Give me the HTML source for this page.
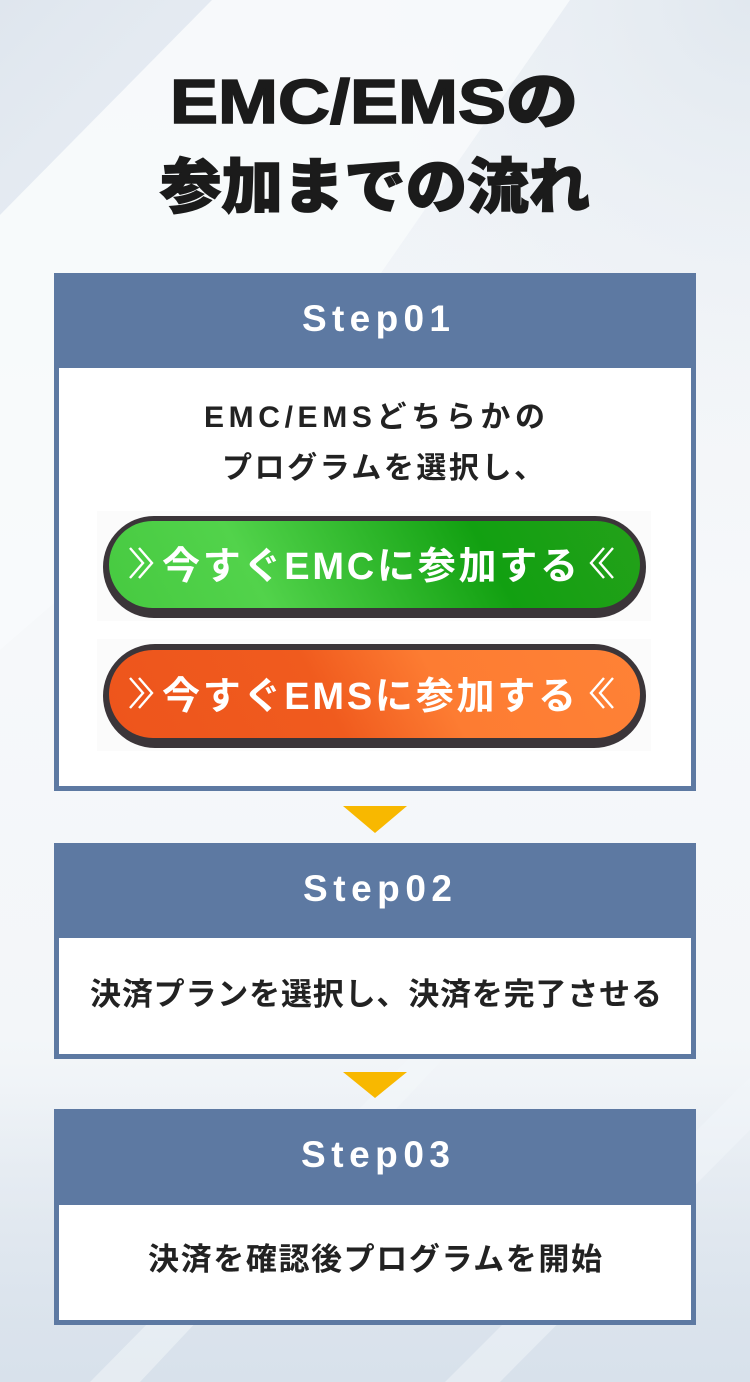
<!DOCTYPE html>
<html>
<head>
<meta charset="utf-8">
<style>
html,body{margin:0;padding:0;width:750px;height:1382px;overflow:hidden;background:#eff3f7;}
svg{display:block;}
text{font-family:"Liberation Sans","Noto Sans CJK JP",sans-serif;}
</style>
</head>
<body>
<svg width="750" height="1382" viewBox="0 0 750 1382" xmlns="http://www.w3.org/2000/svg">
<defs>
  <linearGradient id="bgv" x1="0" y1="0" x2="0" y2="1">
    <stop offset="0" stop-color="#edf1f6"/>
    <stop offset="0.45" stop-color="#f6f8fa"/>
    <stop offset="0.75" stop-color="#f3f6f9"/>
    <stop offset="1" stop-color="#dfe7ef"/>
  </linearGradient>
  <linearGradient id="tl" x1="0" y1="0" x2="1" y2="1">
    <stop offset="0" stop-color="#dfe6ee"/>
    <stop offset="1" stop-color="#eaeff5"/>
  </linearGradient>
  <radialGradient id="tr" cx="750" cy="0" r="450" gradientUnits="userSpaceOnUse">
    <stop offset="0" stop-color="#e1e8ef"/>
    <stop offset="1" stop-color="#eef2f6" stop-opacity="0"/>
  </radialGradient>
  <linearGradient id="bot" x1="0" y1="0" x2="0" y2="1">
    <stop offset="0" stop-color="#dbe3ec" stop-opacity="0"/>
    <stop offset="1" stop-color="#d8e1eb" stop-opacity="1"/>
  </linearGradient>
  <linearGradient id="gGreen" gradientUnits="userSpaceOnUse" x1="109" y1="650" x2="584" y2="393">
    <stop offset="0" stop-color="#45c83f"/>
    <stop offset="0.3" stop-color="#52d34b"/>
    <stop offset="0.7" stop-color="#12a011"/>
    <stop offset="1" stop-color="#25a11a"/>
  </linearGradient>
  <linearGradient id="gOrange" gradientUnits="userSpaceOnUse" x1="109" y1="779" x2="584" y2="522">
    <stop offset="0" stop-color="#ed541c"/>
    <stop offset="0.42" stop-color="#f05b1e"/>
    <stop offset="0.62" stop-color="#fd7c32"/>
    <stop offset="1" stop-color="#ff8236"/>
  </linearGradient>
</defs>

<!-- background -->
<rect x="0" y="0" width="750" height="1382" fill="url(#bgv)"/>
<rect x="0" y="0" width="750" height="500" fill="url(#tr)"/>
<polygon points="0,0 212,0 0,215" fill="url(#tl)"/>
<polygon points="212,0 570,0 300,390 0,650 0,215" fill="#f8fafc" opacity="0.85"/>
<rect x="0" y="1080" width="750" height="302" fill="url(#bot)"/>
<polygon points="90,1382 410,1057 445,1057 140,1382" fill="#f4f7fa" opacity="0.5"/>
<polygon points="445,1382 750,1077 750,1130 500,1382" fill="#f2f5f9" opacity="0.5"/>

<!-- title -->
<text x="170" y="123" font-size="62" font-weight="900" fill="#1b1b1b" stroke="#1b1b1b" stroke-width="1.6" textLength="408" lengthAdjust="spacingAndGlyphs">EMC/EMSの</text>
<text x="160" y="208" font-size="60" font-weight="900" fill="#1b1b1b" stroke="#1b1b1b" stroke-width="1.4" textLength="430" lengthAdjust="spacingAndGlyphs">参加までの流れ</text>

<!-- Step01 -->
<rect x="54" y="273" width="642" height="518" fill="#5d79a2"/>
<rect x="59" y="368" width="632" height="418" fill="#ffffff"/>
<text x="302" y="331" font-size="37" font-weight="700" fill="#ffffff" textLength="148" lengthAdjust="spacing">Step01</text>
<text x="204" y="427" font-size="30" font-weight="700" fill="#222222" textLength="341" lengthAdjust="spacing">EMC/EMSどちらかの</text>
<text x="222" y="478" font-size="30" font-weight="700" fill="#222222" textLength="322" lengthAdjust="spacing">プログラムを選択し、</text>

<!-- green button -->
<rect x="97" y="511" width="554" height="110" fill="#fbfbfb"/>
<rect x="103" y="516" width="543" height="102" rx="51" ry="51" fill="#3b3539"/>
<rect x="109" y="521" width="531" height="87" rx="43.5" ry="43.5" fill="url(#gGreen)"/>
<g fill="none" stroke="#ffffff" stroke-width="2.4" stroke-linejoin="miter">
  <polyline points="130,548 143,563 130,578"/>
  <polyline points="139,548 152,563 139,578"/>
  <polyline points="613,548 600,563 613,578"/>
  <polyline points="604,548 591,563 604,578"/>
</g>
<text x="162" y="579" font-size="38" font-weight="700" fill="#ffffff" textLength="416" lengthAdjust="spacing">今すぐEMCに参加する</text>

<!-- orange button -->
<rect x="97" y="639" width="554" height="112" fill="#fbfbfb"/>
<rect x="103" y="644" width="543" height="104" rx="52" ry="52" fill="#3b3539"/>
<rect x="109" y="650" width="531" height="88" rx="44" ry="44" fill="url(#gOrange)"/>
<g fill="none" stroke="#ffffff" stroke-width="2.4" stroke-linejoin="miter">
  <polyline points="130,678 143,693 130,708"/>
  <polyline points="139,678 152,693 139,708"/>
  <polyline points="613,678 600,693 613,708"/>
  <polyline points="604,678 591,693 604,708"/>
</g>
<text x="162" y="709" font-size="38" font-weight="700" fill="#ffffff" textLength="414" lengthAdjust="spacing">今すぐEMSに参加する</text>

<!-- arrow 1 -->
<polygon points="343,806 407,806 375,833" fill="#f8b800"/>

<!-- Step02 -->
<rect x="54" y="843" width="642" height="216" fill="#5d79a2"/>
<rect x="59" y="938" width="632" height="116" fill="#ffffff"/>
<text x="303" y="901" font-size="37" font-weight="700" fill="#ffffff" textLength="149" lengthAdjust="spacing">Step02</text>
<text x="90" y="1005" font-size="31" font-weight="700" fill="#222222" textLength="572" lengthAdjust="spacing">決済プランを選択し、決済を完了させる</text>

<!-- arrow 2 -->
<polygon points="343,1072 407,1072 375,1098" fill="#f8b800"/>

<!-- Step03 -->
<rect x="54" y="1109" width="642" height="216" fill="#5d79a2"/>
<rect x="59" y="1205" width="632" height="115" fill="#ffffff"/>
<text x="301" y="1167" font-size="37" font-weight="700" fill="#ffffff" textLength="149" lengthAdjust="spacing">Step03</text>
<text x="148" y="1270" font-size="31" font-weight="700" fill="#222222" textLength="454" lengthAdjust="spacing">決済を確認後プログラムを開始</text>
</svg>
</body>
</html>
